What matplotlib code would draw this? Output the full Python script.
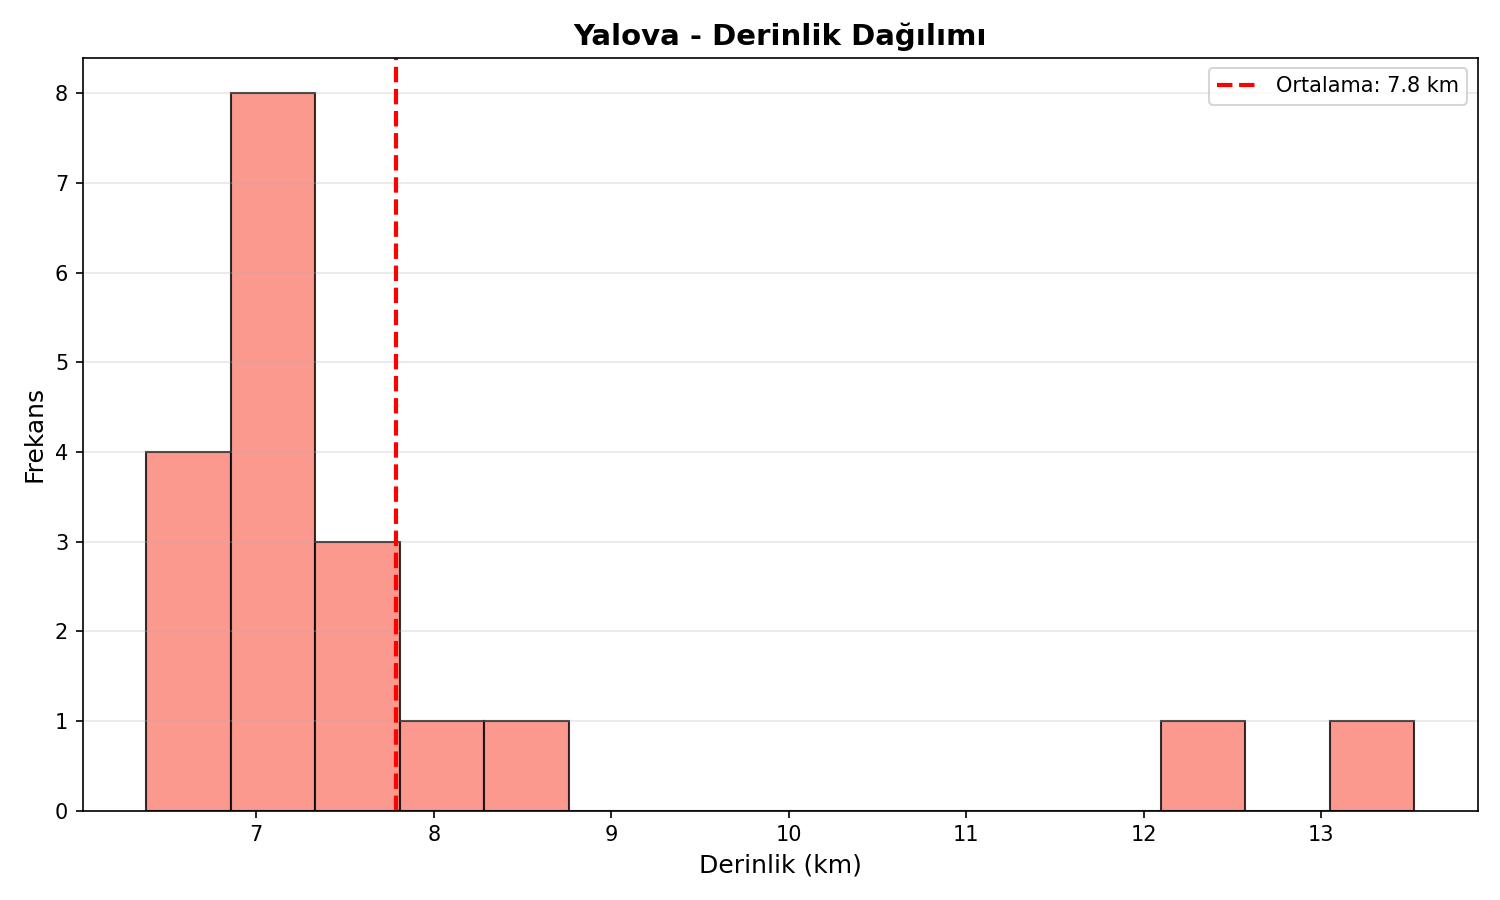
import matplotlib
matplotlib.use("Agg")
import matplotlib.pyplot as plt
import numpy as np

# Histogram: 15 equal bins
bin_start = 6.379
bin_end = 13.525
counts = [4, 8, 3, 1, 1, 0, 0, 0, 0, 0, 0, 0, 1, 0, 1]
mean_depth = 7.785

edges = np.linspace(bin_start, bin_end, len(counts) + 1)
centers = (edges[:-1] + edges[1:]) / 2

fig, ax = plt.subplots(figsize=(10, 6), dpi=150)
ax.hist(centers, bins=edges, weights=counts, color="salmon", alpha=0.8,
        edgecolor="black")
ax.axvline(mean_depth, color="red", linestyle="--", linewidth=2,
           label=f"Ortalama: {mean_depth:.1f} km")
ax.set_title("Yalova - Derinlik Dağılımı", fontsize=14, fontweight="bold")
ax.set_xlabel("Derinlik (km)", fontsize=12)
ax.set_ylabel("Frekans", fontsize=12)
ax.legend()
ax.grid(True, axis="y", alpha=0.3)
fig.tight_layout()
fig.savefig("out.png")
